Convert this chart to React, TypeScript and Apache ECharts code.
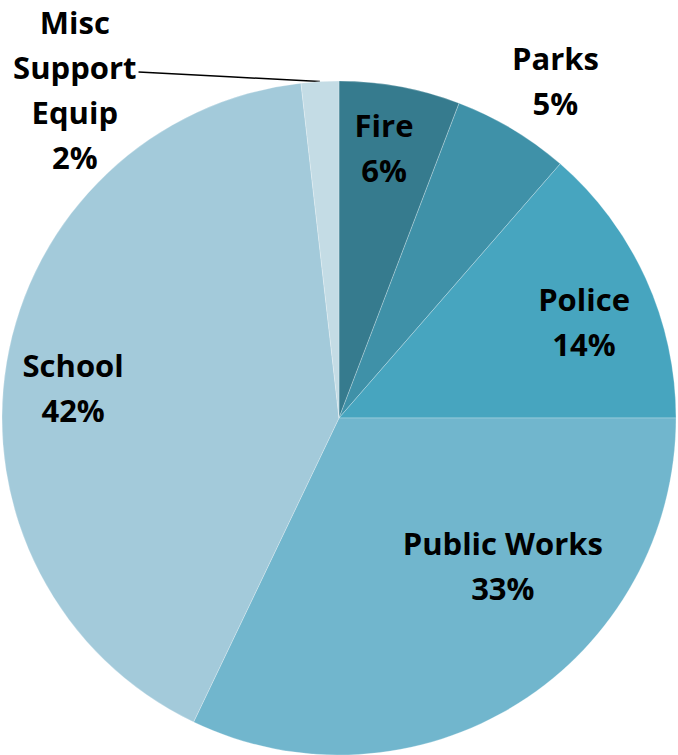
import React, { useEffect, useRef } from "react";
import * as echarts from "echarts";

const categories = ["Fire", "Parks", "Police", "Public Works", "School", "Misc\nSupport\nEquip"];
// slice shares (sizes)
const shares = [5.8, 5.6, 13.6, 32.1, 41.1, 1.8];
// percentages printed on the labels
const pctLabels = [6, 5, 14, 33, 42, 2];
const colors = ["#367B8E", "#3F91A8", "#47A5BF", "#71B6CD", "#A3CADA", "#C4DCE5"];

const CX = 339;
const CY = 418;
const R = 337;
// label placement: [radius factor, angle shift in degrees]
const labelPlace: [number, number][] = [
  [0.815, -1.0],
  [1.19, 1.7],
  [0.782, 2.9],
  [0.655, -15.7],
  [0.794, -3.1],
  [1.25, -35.6],
];

export default function App() {
  const ref = useRef<HTMLDivElement>(null);
  useEffect(() => {
    document.body.style.margin = "0";
    const chart = echarts.init(ref.current!, undefined, { renderer: "svg" });
    const total = shares.reduce((a, b) => a + b, 0);
    const mids: number[] = [];
    let acc = 0;
    shares.forEach((v) => {
      mids.push(((acc + v / 2) / total) * 360);
      acc += v;
    });
    chart.setOption({
      animation: false,
      backgroundColor: "#ffffff",
      series: [
        {
          type: "pie",
          center: [CX, CY],
          radius: [0, R],
          startAngle: 90,
          clockwise: true,
          avoidLabelOverlap: false,
          itemStyle: { borderColor: "rgba(255,255,255,0.25)", borderWidth: 1 },
          label: {
            show: true,
            position: "inside",
            formatter: (p: any) => `${p.name}\n${pctLabels[p.dataIndex]}%`,
            fontFamily: "Open Sans",
            fontWeight: "bold",
            fontSize: 31,
            lineHeight: 45,
            color: "#000000",
            align: "center",
          },
          labelLine: { show: false },
          labelLayout: (params: any) => {
            const i = params.dataIndex;
            const [rf, shift] = labelPlace[i];
            const a = ((mids[i] + shift) * Math.PI) / 180;
            const x = CX + rf * R * Math.sin(a);
            const y = CY - rf * R * Math.cos(a);
            const out: any = { x, y, align: "center", verticalAlign: "middle" };
            if (i === 5) {
              const w = params.labelRect.width;
              const ea = (mids[i] * Math.PI) / 180;
              const ex = CX + R * Math.sin(ea);
              const ey = CY - R * Math.cos(ea);
              const sx = x + w / 2 + 2;
              const sy = y - 18;
              out.labelLinePoints = [
                [sx, sy],
                [(sx + ex) / 2, (sy + ey) / 2],
                [ex, ey],
              ];
            }
            return out;
          },
          data: categories.map((name, i) => ({
            name,
            value: shares[i],
            itemStyle: { color: colors[i] },
            label: { position: i === 1 || i === 5 ? "outside" : "inside" },
            labelLine:
              i === 5
                ? { show: true, lineStyle: { color: "#000000", width: 1.5 } }
                : { show: false },
          })),
        },
      ],
    });
    return () => chart.dispose();
  }, []);
  return <div ref={ref} style={{ width: 678, height: 755 }} />;
}
